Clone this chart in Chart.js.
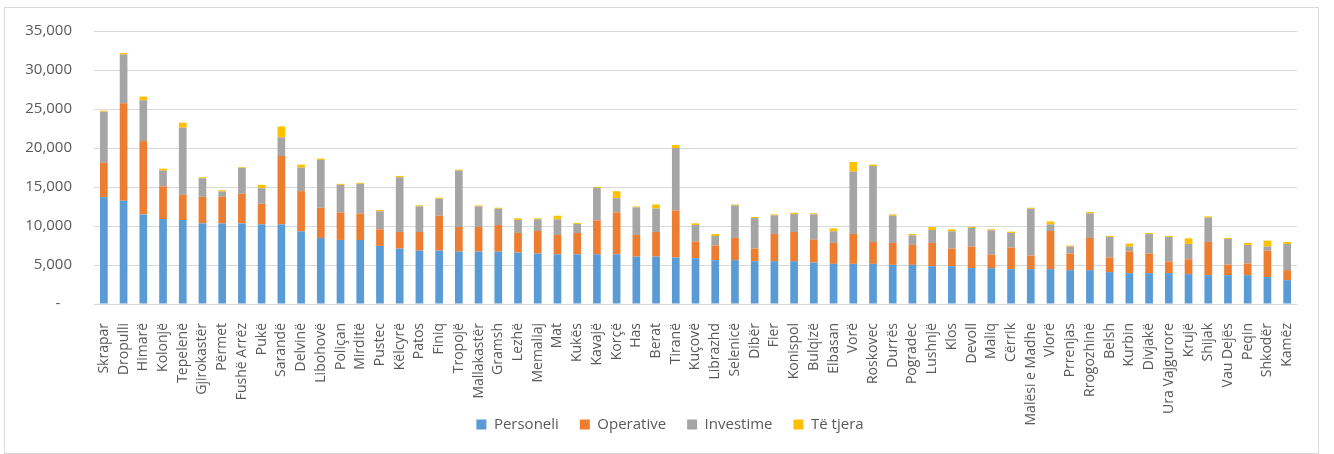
<!DOCTYPE html>
<html>
<head>
<meta charset="utf-8">
<script src="https://cdn.jsdelivr.net/npm/chart.js@4/dist/chart.umd.min.js"></script>
<style>
    html, body { margin: 0; padding: 0; background: #fff; }
    #wrap { position: relative; width: 1334px; height: 454px; }
    #frame {
        position: absolute; left: 4px; top: 7px; width: 1313px; height: 445px;
        border: 1px solid #d9d9d9; pointer-events: none;
    }
    #chart { position: absolute; left: 0; top: 0; }
</style>
</head>
<body>
<div id="wrap">
    <canvas id="chart" width="1334" height="454"></canvas>
    <div id="frame"></div>
</div>
<script>
var municipalities = ['Skrapar', 'Dropulli', 'Himarë', 'Kolonjë', 'Tepelenë', 'Gjirokastër', 'Përmet', 'Fushë Arrëz', 'Pukë', 'Sarandë',
    'Delvinë', 'Libohovë', 'Poliçan', 'Mirditë', 'Pustec', 'Këlcyrë', 'Patos', 'Finiq', 'Tropojë', 'Mallakastër',
    'Gramsh', 'Lezhë', 'Memaliaj', 'Mat', 'Kukës', 'Kavajë', 'Korçë', 'Has', 'Berat', 'Tiranë',
    'Kuçovë', 'Librazhd', 'Selenicë', 'Dibër', 'Fier', 'Konispol', 'Bulqizë', 'Elbasan', 'Vorë', 'Roskovec',
    'Durrës', 'Pogradec', 'Lushnjë', 'Klos', 'Devoll', 'Maliq', 'Cërrik', 'Malësi e Madhe', 'Vlorë', 'Prrenjas',
    'Rrogozhinë', 'Belsh', 'Kurbin', 'Divjakë', 'Ura Vajgurore', 'Krujë', 'Shijak', 'Vau Dejës', 'Peqin', 'Shkodër', 'Kamëz'];

var personeli = [13700, 13230, 11490, 10890, 10770, 10340, 10340, 10340, 10210, 10210,
    9320, 8470, 8210, 8210, 7450, 7100, 6850, 6850, 6720, 6720,
    6720, 6600, 6470, 6380, 6380, 6380, 6380, 6080, 6080, 5960,
    5870, 5620, 5620, 5490, 5490, 5490, 5320, 5150, 5150, 5150,
    5020, 5020, 4850, 4850, 4600, 4600, 4470, 4470, 4470, 4340,
    4340, 4090, 3960, 3960, 3960, 3830, 3700, 3700, 3700, 3450, 3060];

var operative = [4400, 12500, 9400, 4200, 3230, 3400, 3400, 3790, 2640, 8770,
    5150, 3870, 3530, 3400, 2130, 2130, 2380, 4470, 3150, 3150,
    3400, 2510, 2890, 2470, 2720, 4340, 5360, 2770, 3150, 6040,
    2130, 1870, 2850, 1620, 3490, 3740, 2940, 2680, 3830, 2810,
    2810, 2550, 2980, 2250, 2770, 1740, 2770, 1740, 4890, 2130,
    4130, 1870, 2770, 2510, 1490, 1910, 4260, 1360, 1490, 3400, 1280];

var investime = [6550, 6250, 5230, 2000, 8600, 2380, 680, 3320, 2000, 2380,
    3020, 6130, 3530, 3790, 2300, 7020, 3280, 2170, 7230, 2640,
    2090, 1660, 1490, 2000, 1150, 4170, 1830, 3530, 3020, 8000,
    2130, 1230, 4170, 3910, 2380, 2300, 3230, 1490, 8000, 9740,
    3490, 1230, 1660, 2210, 2380, 3110, 1870, 6000, 850, 890,
    3150, 2640, 640, 2510, 3150, 1960, 3110, 3280, 2380, 510, 3360];

var teTjera = [130, 200, 470, 260, 640, 130, 170, 90, 425, 1400,
    380, 170, 130, 130, 170, 170, 130, 130, 130, 130,
    130, 210, 130, 470, 130, 130, 890, 130, 510, 380,
    210, 260, 130, 130, 130, 170, 130, 380, 1230, 170,
    170, 170, 380, 260, 130, 130, 170, 130, 380, 130,
    170, 130, 380, 130, 130, 720, 170, 130, 260, 770, 260];

var Y_MAX = 35000;
var Y_STEP = 5000;
var TEXT_COLOR = '#595959';
var FONT = '"Open Sans", "Noto Sans", sans-serif';

function series(label, data, color) {
    return {
        label: label,
        data: data,
        backgroundColor: color,
        borderWidth: 0,
        barPercentage: 0.39,
        categoryPercentage: 1
    };
}

// labels are allowed to spill out of their axis box (long names, y ticks)
function noLabelClip(scale) {
    scale._computeLabelArea = function() { return undefined; };
}

var ctx = document.getElementById('chart').getContext('2d');
new Chart(ctx, {
    type: 'bar',
    data: {
        labels: municipalities,
        datasets: [
            series('Personeli', personeli, '#5b9bd5'),
            series('Operative', operative, '#ed7d31'),
            series('Investime', investime, '#a5a5a5'),
            series('Të tjera', teTjera, '#ffc000')
        ]
    },
    options: {
        responsive: false,
        animation: false,
        layout: { padding: { left: 43, right: 37, top: 29, bottom: 12 } },
        scales: {
            x: {
                stacked: true,
                grid: { display: false },
                border: { display: false },
                ticks: {
                    autoSkip: false,
                    minRotation: 90,
                    maxRotation: 90,
                    padding: 11,
                    color: TEXT_COLOR,
                    font: { family: FONT, size: 14 }
                },
                afterFit: function(scale) {
                    scale.height = 92;
                    noLabelClip(scale);
                }
            },
            y: {
                stacked: true,
                min: 0,
                max: Y_MAX,
                grid: { color: '#d9d9d9', drawTicks: false },
                border: { display: false },
                ticks: {
                    stepSize: Y_STEP,
                    padding: 22,
                    color: TEXT_COLOR,
                    font: { family: FONT, size: 15 },
                    callback: function(v) {
                        // zero is shown as a dash, like the accounting format
                        return v === 0 ? '-   ' : v.toLocaleString('en-US');
                    }
                },
                afterFit: function(scale) {
                    scale.width = 51;
                    noLabelClip(scale);
                }
            }
        },
        plugins: {
            legend: {
                position: 'bottom',
                labels: {
                    boxWidth: 10,
                    boxHeight: 10,
                    padding: 21,
                    color: TEXT_COLOR,
                    font: { family: FONT, size: 15 }
                }
            },
            tooltip: { enabled: false }
        }
    }
});
</script>
</body>
</html>
